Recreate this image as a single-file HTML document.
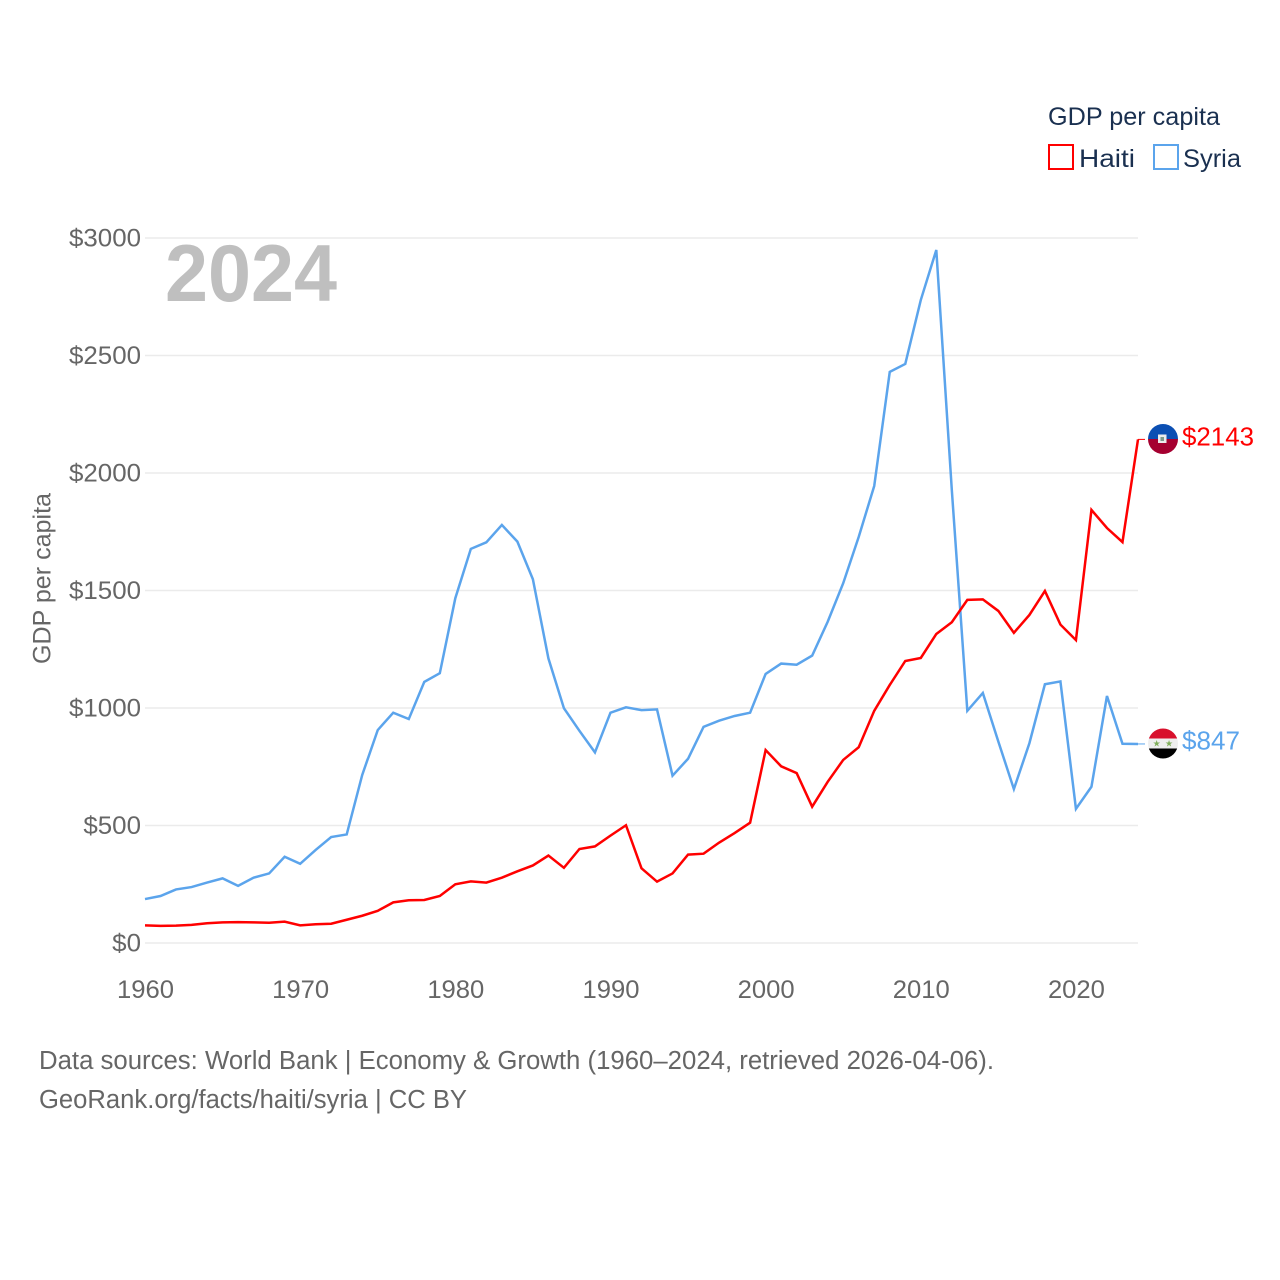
<!DOCTYPE html>
<html lang="en">
<head>
<meta charset="utf-8">
<title>GDP per capita: Haiti and Syria</title>
<style>
  html, body { margin: 0; padding: 0; background: #fff; }
  svg { display: block; font-family: "Liberation Sans", sans-serif; }
</style>
</head>
<body>
<svg id="chart" xmlns="http://www.w3.org/2000/svg" width="1280" height="1280" viewBox="0 0 1280 1280">
  <rect width="1280" height="1280" fill="#ffffff"/>
  <defs>
    <clipPath id="haiti-clip"><circle cx="1163" cy="439" r="15"/></clipPath>
    <clipPath id="syria-clip"><circle cx="1163" cy="743.500" r="15"/></clipPath>
  </defs>
  <g id="grid"></g>
  <g id="y-ticks"></g>
  <g id="x-ticks"></g>
  <text transform="translate(50.5 664) rotate(-90)" font-size="25" fill="#666666" textLength="171" lengthAdjust="spacingAndGlyphs">GDP per capita</text>
  <text x="165" y="301" font-size="81" font-weight="700" fill="#bfbfbf" textLength="172" lengthAdjust="spacingAndGlyphs">2024</text>
  <g id="series"></g>

  <g>
    <text x="1048" y="125" font-size="25" fill="#1a3050" textLength="172" lengthAdjust="spacingAndGlyphs">GDP per capita</text>
    <rect x="1049" y="145" width="24" height="24" fill="none" stroke="#ff0000" stroke-width="2"/>
    <text x="1079" y="167" font-size="25" fill="#1a3050" textLength="56" lengthAdjust="spacingAndGlyphs">Haiti</text>
    <rect x="1154" y="145" width="24" height="24" fill="none" stroke="#5ba4ec" stroke-width="2"/>
    <text x="1183" y="167" font-size="25" fill="#1a3050" textLength="58" lengthAdjust="spacingAndGlyphs">Syria</text>
  </g>

  <g clip-path="url(#haiti-clip)">
    <rect x="1148" y="424" width="30" height="15" fill="#0b4fb3"/>
    <rect x="1148" y="439" width="30" height="15" fill="#a50030"/>
    <rect x="1158" y="434.500" width="8.500" height="8.500" fill="#ececec"/>
    <rect x="1160.500" y="437" width="3.500" height="4" fill="#7d9a8c"/>
  </g>
  <g clip-path="url(#syria-clip)">
    <rect x="1148" y="728" width="30" height="10.500" fill="#d8102c"/>
    <rect x="1148" y="738.500" width="30" height="10" fill="#eeeeee"/>
    <rect x="1148" y="748.500" width="30" height="11" fill="#000000"/>
    <text x="1156.700" y="746.500" font-size="9" fill="#7fae5a" text-anchor="middle" font-family="'DejaVu Sans', sans-serif">★</text>
    <text x="1169" y="746.500" font-size="9" fill="#7fae5a" text-anchor="middle" font-family="'DejaVu Sans', sans-serif">★</text>
  </g>
  <text id="haiti-end" x="1182" y="445.500" font-size="26" fill="#ff0000" textLength="72" lengthAdjust="spacingAndGlyphs"></text>
  <text id="syria-end" x="1182" y="749.500" font-size="26" fill="#5ba4ec" textLength="58" lengthAdjust="spacingAndGlyphs"></text>

  <text x="39" y="1069" font-size="25.500" fill="#666666" textLength="955" lengthAdjust="spacingAndGlyphs">Data sources: World Bank | Economy &amp; Growth (1960–2024, retrieved 2026-04-06).</text>
  <a><text x="39" y="1108" font-size="25.500" fill="#666666" textLength="428" lengthAdjust="spacingAndGlyphs">GeoRank.org/facts/haiti/syria | CC BY</text></a>
</svg>
<script>
var startYear = 1960;
var yTickValues = [0, 500, 1000, 1500, 2000, 2500, 3000];
var yTickLabels = ["$0", "$500", "$1000", "$1500", "$2000", "$2500", "$3000"];
var xTickValues = [1960, 1970, 1980, 1990, 2000, 2010, 2020];
var xTickLabels = ["1960", "1970", "1980", "1990", "2000", "2010", "2020"];
var haitiValues = [75, 73, 74, 77, 84, 88, 89, 88, 86, 91, 75, 80, 82, 99, 116, 137, 173, 182, 183, 200,
  250, 262, 257, 278, 305, 330, 372, 320, 400, 411, 457, 501, 318, 261, 296, 376, 380, 427, 468, 512,
  821, 752, 723, 580, 686, 779, 833, 988, 1098, 1200, 1213, 1315, 1365, 1460, 1462, 1413, 1320, 1396, 1498, 1355,
  1289, 1843, 1766, 1706, 2143];
var syriaValues = [187, 200, 228, 238, 257, 275, 243, 278, 296, 367, 337, 396, 451, 462, 715, 906, 980, 953, 1111, 1148,
  1467, 1677, 1705, 1779, 1708, 1548, 1211, 999, 903, 811, 980, 1003, 991, 994, 712, 784, 920, 946, 966, 980,
  1145, 1189, 1184, 1223, 1367, 1531, 1728, 1945, 2430, 2464, 2736, 2949, 1928, 988, 1064, 857, 655, 850, 1101, 1113,
  571, 665, 1051, 848, 847];

var SVG_NS = "http://www.w3.org/2000/svg";
function xScale(year) { return 145 + (year - 1960) * (993 / 64); }
function yScale(value) { return 943 - value * 0.235; }
function make(tag, parent) {
  var el = document.createElementNS(SVG_NS, tag);
  parent.appendChild(el);
  return el;
}

var gridGroup = document.getElementById("grid");
var yGroup = document.getElementById("y-ticks");
yTickValues.forEach(function (v, i) {
  var line = make("line", gridGroup);
  
  
  line.setAttribute("x1", 145);
  line.setAttribute("x2", 1138);
  line.setAttribute("y1", yScale(v));
  line.setAttribute("y2", yScale(v));
  line.setAttribute("stroke", "#ebebeb");
  line.setAttribute("stroke-width", "1.5");

  var label = make("text", yGroup);
  
  
  label.setAttribute("x", 141);
  label.setAttribute("y", yScale(v) + 8.5);
  label.setAttribute("text-anchor", "end");
  label.setAttribute("font-size", "25");
  label.setAttribute("fill", "#666666");
  label.setAttribute("textLength", yTickLabels[i].length * 14.4);
  label.setAttribute("lengthAdjust", "spacingAndGlyphs");
  label.textContent = yTickLabels[i];
});

var xGroup = document.getElementById("x-ticks");
xTickValues.forEach(function (v, i) {
  var label = make("text", xGroup);
  
  
  label.setAttribute("x", xScale(v) + 0.5);
  label.setAttribute("y", 998);
  label.setAttribute("text-anchor", "middle");
  label.setAttribute("font-size", "25");
  label.setAttribute("fill", "#666666");
  label.setAttribute("textLength", 57);
  label.setAttribute("lengthAdjust", "spacingAndGlyphs");
  label.textContent = xTickLabels[i];
});

function linePoints(values) {
  return values.map(function (v, i) {
    return xScale(startYear + i).toFixed(2) + "," + yScale(v).toFixed(2);
  }).join(" ");
}

var seriesGroup = document.getElementById("series");

var syriaLine = make("polyline", seriesGroup);


syriaLine.setAttribute("points", linePoints(syriaValues));
syriaLine.setAttribute("fill", "none");
syriaLine.setAttribute("stroke", "#5ba4ec");
syriaLine.setAttribute("stroke-width", "2.5");
syriaLine.setAttribute("stroke-linejoin", "miter");

var haitiLine = make("polyline", seriesGroup);


haitiLine.setAttribute("points", linePoints(haitiValues));
haitiLine.setAttribute("fill", "none");
haitiLine.setAttribute("stroke", "#ff0000");
haitiLine.setAttribute("stroke-width", "2.5");
haitiLine.setAttribute("stroke-linejoin", "miter");

var endYear = startYear + haitiValues.length - 1;
var haitiLast = haitiValues[haitiValues.length - 1];
var syriaLast = syriaValues[syriaValues.length - 1];

var haitiLeader = make("line", seriesGroup);


haitiLeader.setAttribute("x1", xScale(endYear));
haitiLeader.setAttribute("x2", xScale(endYear) + 7);
haitiLeader.setAttribute("y1", yScale(haitiLast));
haitiLeader.setAttribute("y2", yScale(haitiLast));
haitiLeader.setAttribute("stroke", "#ff0000");
haitiLeader.setAttribute("stroke-width", "1");

var syriaLeader = make("line", seriesGroup);


syriaLeader.setAttribute("x1", xScale(endYear));
syriaLeader.setAttribute("x2", xScale(endYear) + 7);
syriaLeader.setAttribute("y1", yScale(syriaLast));
syriaLeader.setAttribute("y2", yScale(syriaLast));
syriaLeader.setAttribute("stroke", "#5ba4ec");
syriaLeader.setAttribute("stroke-width", "1");

document.getElementById("haiti-end").textContent = "$" + haitiLast;
document.getElementById("syria-end").textContent = "$" + syriaLast;
</script>
</body>
</html>
